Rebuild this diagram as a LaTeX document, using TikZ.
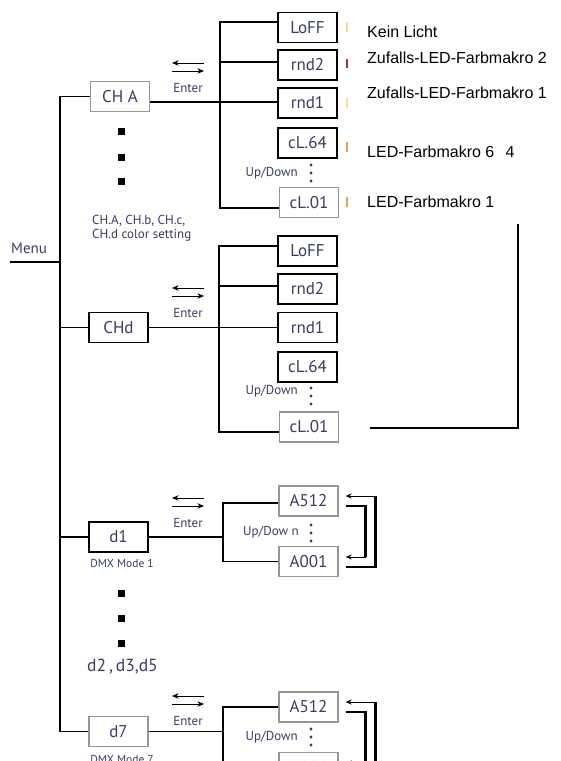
\documentclass[tikz,border=0pt]{standalone}
\usepackage{fontspec}
\setmainfont{PT Sans}
\newfontfamily\arialfont{Liberation Sans}
\usetikzlibrary{arrows.meta}
\definecolor{menutext}{RGB}{58,60,92}
\definecolor{boxgray}{RGB}{150,150,150}
\definecolor{tickorange}{RGB}{228,160,96}
\definecolor{tickyellow}{RGB}{246,218,150}
\definecolor{tickpurple}{RGB}{150,52,100}

\tikzset{
	menubox/.style={draw=black, line width=1.3pt, minimum width=59pt, minimum height=30pt, inner sep=0pt, text=menutext, font=\fontsize{17}{17}\selectfont},
	greybox/.style={menubox, draw=boxgray},
	wire/.style={line width=1.2pt},
	smalltext/.style={text=menutext, inner sep=0pt, font=\fontsize{13}{14}\selectfont},
	desc/.style={anchor=west, inner sep=0pt, font=\arialfont\fontsize{16}{18}\selectfont},
	dotsq/.style={fill=black, minimum size=7pt, inner sep=0pt},
	updot/.style={circle, fill=menutext, minimum size=3.2pt, inner sep=0pt},
	tickmark/.style={line width=1.6pt},
	loopline/.style={line width=1pt, -{Stealth[length=6pt,width=5pt]}},
	looprun/.style={line width=2.4pt},
	enterarrow/.style={line width=0.9pt, -{Stealth[length=6.5pt,width=5.5pt]}}
}

\begin{document}
\begin{tikzpicture}[x=1pt, y=-1pt]
		\useasboundingbox (0,0) rectangle (561,761);
		
		% --- Hauptmenue ---
		\node[smalltext, anchor=west, font=\fontsize{15}{15}\selectfont] (menu) at (11,248) {Menu};
		\coordinate (menuEnd) at (10,262);
		\coordinate (bus) at (60,262);
		
		\node[greybox] (chA) at (120,96.5) {CH A};
		\node[menubox] (chD) at (118.5,327.5) {CHd};
		\node[menubox] (dOne) at (118.5,537) {d1};
		\node[greybox] (dSeven) at (118.5,731.5) {d7};
		
		\draw[wire] (menuEnd) -- (bus);
		\draw[wire] (chA.west) -- (chA.west -| bus) -- (dSeven.west -| bus) -- (dSeven.west);
		\draw[wire] (chD.west) -- (chD.west -| bus);
		\draw[wire] (dOne.west) -- (dOne.west -| bus);
		
		% Enter-Pfeile
		\foreach \n/\yy in {A/88, D/313, One/523, Seven/721} {
			\node[smalltext] (enter\n) at (188,\yy) {Enter};
			\draw[enterarrow] ([shift={(16,-25)}]enter\n.center) -- ++(-32,0);
			\draw[enterarrow] ([shift={(-16,-17)}]enter\n.center) -- ++(32,0);
		}
		
		% --- CH A: Farbeinstellung ---
		\node[menubox] (loffA) at (307.5,27.5) {LoFF};
		\node[menubox] (rndtwoA) at (307.5,65) {rnd2};
		\node[menubox] (rndoneA) at (307.5,103) {rnd1};
		\node[menubox] (clsixfourA) at (307.5,143) {cL.64};
		\node[greybox] (cloneA) at (309,202.5) {cL.01};
		\coordinate (brA) at (220,102);
		
		\draw[wire] ([yshift=-5.5pt]chA.east) -- (brA);
		\draw[wire] ([yshift=5.5pt]loffA.west) -| (brA) |- ([yshift=-5.5pt]cloneA.west);
		\draw[wire] ([yshift=3pt]rndtwoA.west) -| (brA);
		\draw[wire] ([yshift=1pt]rndoneA.west) -| (brA);
		
		\node[smalltext, anchor=east] (updownA) at (298,173) {Up/Down};
		\foreach \dy in {-8,0,8}
			\node[updot] at (311,173+\dy) {};
		
		\foreach \yy in {131,157,181}
			\node[dotsq] at (121,\yy) {};
		\node[smalltext, anchor=west, align=left, font=\fontsize{13}{14}\selectfont] (chNote) at (92,228) {CH.A, CH.b, CH.c,\\CH.d color setting};
		
		% Beschreibungen
		\draw[tickmark, tickyellow] (347,22) -- (347,32);
		\draw[tickmark, tickpurple] (347,59) -- (347,68);
		\draw[tickmark, tickyellow] (347,98) -- (347,108);
		\draw[tickmark, tickorange] (347,142) -- (347,152);
		\draw[tickmark, tickorange] (347,197) -- (347,207);
		\node[desc] (keinLicht) at (367,32) {Kein Licht};
		\node[desc] (randTwo) at (367,58) {Zufalls-LED-Farbmakro 2};
		\node[desc] (randOne) at (367,93) {Zufalls-LED-Farbmakro 1};
		\node[desc] (ledSixFour) at (367,152) {LED-Farbmakro 6\hspace{0.7em}4};
		\node[desc] (ledOne) at (367,202) {LED-Farbmakro 1};
		
		% --- CHd ---
		\node[menubox] (loffD) at (307.5,251) {LoFF};
		\node[menubox] (rndtwoD) at (307.5,289) {rnd2};
		\node[menubox] (rndoneD) at (307.5,327.5) {rnd1};
		\node[menubox] (clsixfourD) at (307.5,367) {cL.64};
		\node[greybox] (cloneD) at (309,427) {cL.01};
		\coordinate (brD) at (219,327.5);
		
		\draw[wire] (chD.east) -- (brD);
		\draw[wire] ([yshift=5pt]loffD.west) -| (brD) |- ([yshift=-5pt]cloneD.west);
		\draw[wire] ([yshift=3pt]rndtwoD.west) -| (brD);
		\draw[wire] (rndoneD.west) -| (brD);
		
		\node[smalltext, anchor=east] (updownD) at (298,391) {Up/Down};
		\foreach \dy in {-8,0,8}
			\node[updot] at (311,396+\dy) {};
		
		\coordinate (linkTop) at (518,224);
		\draw[wire] ([shift={(30.5,1)}]cloneD.east) -| (linkTop);
		
		% --- d1: DMX Mode 1 ---
		\node[smalltext, font=\fontsize{11.5}{12}\selectfont] (dmxOne) at (122,563) {DMX Mode 1};
		\node[greybox] (aTopOne) at (308.5,501) {A512};
		\node[greybox] (aBotOne) at (308.5,561.5) {A001};
		\coordinate (brOne) at (223,537);
		
		\draw[wire] (dOne.east) -- (brOne);
		\draw[wire] ([yshift=-2pt]aTopOne.west) -| (brOne) |- (aBotOne.west);
		
		\node[smalltext, anchor=east] (updownOne) at (299,532) {Up/Dow n};
		\foreach \dy in {-8,0,8}
			\node[updot] at (311,533+\dy) {};
		
		\coordinate (outStartOne) at ([shift={(7,5.5)}]aBotOne.east);
		\coordinate (outEndOne) at ([shift={(7,-5)}]aTopOne.east);
		\coordinate (inStartOne) at ([shift={(7,5)}]aTopOne.east);
		\coordinate (inEndOne) at ([shift={(7,-4.5)}]aBotOne.east);
		\draw[loopline] (outStartOne) -- ++(30,0) coordinate (outCornerOne) |- (outEndOne);
		\draw[loopline] (inStartOne) -- ++(20,0) coordinate (inCornerOne) |- (inEndOne);
		\draw[looprun] (outStartOne) -- (outCornerOne) -- (outCornerOne |- outEndOne);
		\draw[looprun] (inStartOne) -- (inCornerOne) -- (inCornerOne |- inEndOne);
		
		\foreach \yy in {593,618,643}
			\node[dotsq] at (121,\yy) {};
		\node[anchor=west, inner sep=0pt, text=menutext, font=\fontsize{17.5}{18}\selectfont] (dOthers) at (87,667) {d2\,,\,d3,d5};
		
		% --- d7: DMX Mode 7 ---
		\node[smalltext, font=\fontsize{11.5}{12}\selectfont] (dmxSeven) at (122,759) {DMX Mode 7};
		\node[greybox] (aTopSeven) at (308.5,707) {A512};
		\node[greybox] (aBotSeven) at (308.5,767.5) {A001};
		\coordinate (brSeven) at (223,731.5);
		
		\draw[wire] (dSeven.east) -- (brSeven);
		\draw[wire] (aTopSeven.west) -| (brSeven) |- (aBotSeven.west);
		
		\node[smalltext, anchor=east] (updownSeven) at (298,737) {Up/Down};
		\foreach \dy in {-8,0,8}
			\node[updot] at (311,737+\dy) {};
		
		\coordinate (outStartSeven) at ([shift={(7,5.5)}]aBotSeven.east);
		\coordinate (outEndSeven) at ([shift={(7,-5)}]aTopSeven.east);
		\coordinate (inStartSeven) at ([shift={(7,5)}]aTopSeven.east);
		\coordinate (inEndSeven) at ([shift={(7,-4.5)}]aBotSeven.east);
		\draw[loopline] (outStartSeven) -- ++(30,0) coordinate (outCornerSeven) |- (outEndSeven);
		\draw[loopline] (inStartSeven) -- ++(20,0) coordinate (inCornerSeven) |- (inEndSeven);
		\draw[looprun] (outStartSeven) -- (outCornerSeven) -- (outCornerSeven |- outEndSeven);
		\draw[looprun] (inStartSeven) -- (inCornerSeven) -- (inCornerSeven |- inEndSeven);
		
	\end{tikzpicture}
\end{document}
